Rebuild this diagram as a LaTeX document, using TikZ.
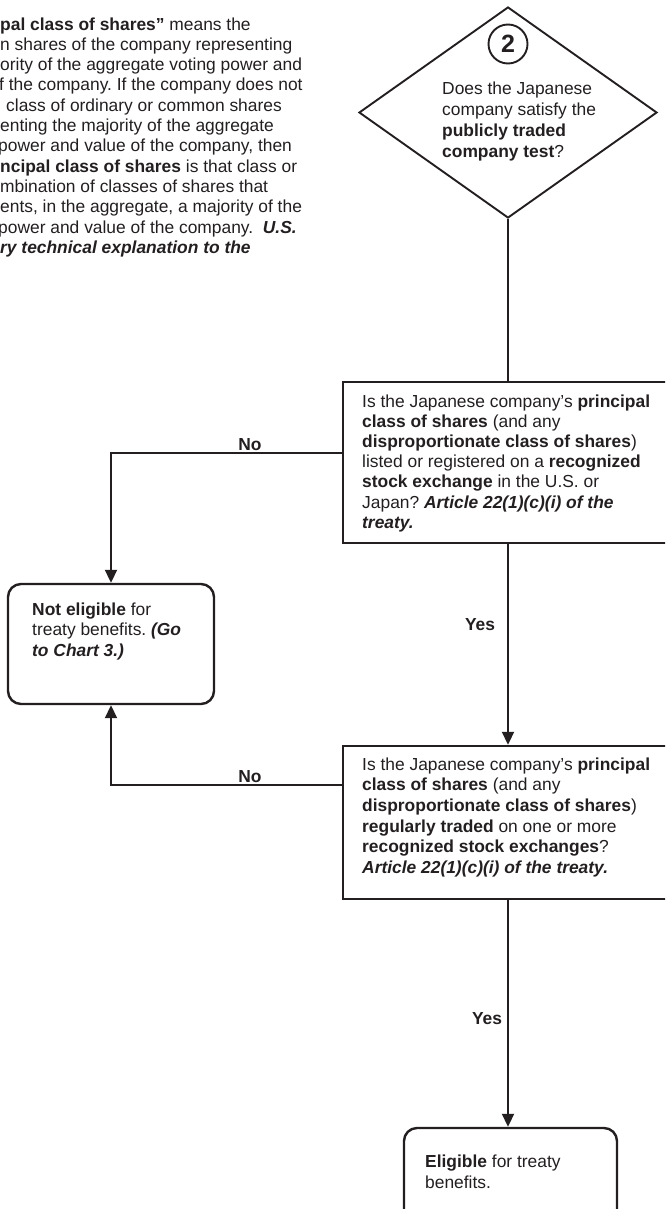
\documentclass[tikz,border=0pt]{standalone}
\usepackage{fontspec}
\setmainfont{Liberation Sans}
\usetikzlibrary{shapes.geometric,arrows.meta}
\definecolor{ink}{HTML}{231F20}
\newcommand\bi[1]{\textbf{\textit{#1}}}
\frenchspacing
\begin{document}
\begin{tikzpicture}[x=1pt,y=-1pt,
  % multi-line texts are placed by the baseline of their last line
  txt/.style={inner sep=0pt, anchor=base west, align=left, text=ink},
  qbox/.style={draw=ink, line width=2.4pt, rectangle, inner sep=0pt},
  endbox/.style={draw=ink, line width=2.4pt, rectangle, rounded corners=13pt, inner sep=0pt},
  link/.style={draw=ink, line width=1.9pt},
  flow/.style={link, -{Triangle[length=13pt,width=12pt]}},
  lab/.style={inner sep=0pt, anchor=base, text=ink, font=\fontsize{17.4pt}{20pt}\selectfont\bfseries},
]
\useasboundingbox (0,0) rectangle (665,1209);
\clip (0,0) rectangle (665,1209);

% definition paragraph, running off the left edge of the page
\node[txt, font=\fontsize{17.4pt}{20.3pt}\selectfont] (defn) at (0,253.3)
 {\textbf{pal class of shares”} means the\\
  n shares of the company representing\\
  ority of the aggregate voting power and\\
  \hspace*{-1pt}f the company. If the company does not\\
  \hspace*{6pt}class of ordinary or common shares\\
  enting the majority of the aggregate\\
  \hspace*{-2pt}power and value of the company, then\\
  \textbf{ncipal class of shares} is that class or\\
  mbination of classes of shares that\\
  ents, in the aggregate, a majority of the\\
  \hspace*{-2pt}power and value of the company.\ \ \bi{U.S.}\\
  \bi{ry technical explanation to the}};

% decision 2: the publicly traded company test
\node[draw=ink, line width=1.9pt, diamond, inner sep=0pt,
      minimum width=298pt, minimum height=211pt] (d) at (508,112.5) {};
\node[draw=ink, line width=1.9pt, circle, minimum size=39pt, inner sep=0pt,
      text=ink, font=\fontsize{25pt}{25pt}\selectfont\bfseries] (num) at (508,44) {2};
\node[txt, font=\fontsize{17.4pt}{20.7pt}\selectfont] (dtext) at (442,157.1)
 {Does the Japanese\\
  company satisfy the\\
  \textbf{publicly traded}\\
  \textbf{company test}?};

% listing question
\node[qbox, minimum width=337pt, minimum height=161pt] (q1) at (511.5,462.5) {};
\node[txt, font=\fontsize{17.4pt}{20.2pt}\selectfont] (q1text) at (362,528.2)
 {Is the Japanese company’s \textbf{principal}\\
  \textbf{class of shares} (and any\\
  \textbf{disproportionate class of shares})\\
  listed or registered on a \textbf{recognized}\\
  \textbf{stock exchange} in the U.S. or\\
  Japan? \bi{Article 22(1)(c)(i) of the}\\
  \bi{treaty.}};

% regular trading question
\node[qbox, minimum width=337pt, minimum height=153pt] (q2) at (511.5,822.5) {};
\node[txt, font=\fontsize{17.4pt}{20.7pt}\selectfont] (q2text) at (362,873.5)
 {Is the Japanese company’s \textbf{principal}\\
  \textbf{class of shares} (and any\\
  \textbf{disproportionate class of shares})\\
  \textbf{regularly traded} on one or more\\
  \textbf{recognized stock exchanges}?\\
  \bi{Article 22(1)(c)(i) of the treaty.}};

% outcomes
\node[endbox, minimum width=206pt, minimum height=120pt] (ne) at (111,644) {};
\node[txt, font=\fontsize{17.4pt}{20.5pt}\selectfont] (netext) at (32,656)
 {\textbf{Not eligible} for\\
  treaty benefits. \bi{(Go}\\
  \bi{to Chart 3.)}};

\node[endbox, minimum width=213pt, minimum height=112pt] (el) at (510.5,1184) {};
\node[txt, font=\fontsize{17.4pt}{21pt}\selectfont] (eltext) at (425,1188)
 {\textbf{Eligible} for treaty\\
  benefits.};

% connectors
\draw[link] (d.south) -- (d.south |- q1.north);
\draw[flow] ([yshift=9.5pt]q1.west) -| (ne.north);
\draw[flow] (d.south |- q1.south) -- (d.south |- q2.north);
\draw[flow] ([yshift=37.5pt]q2.west) -| (ne.south);
\draw[flow] (d.south |- q2.south) -- (d.south |- el.north);

% branch labels
\node[lab] (no1) at (250,450.5) {No};
\node[lab] (yes1) at (480,630) {Yes};
\node[lab] (no2) at (250,782.5) {No};
\node[lab] (yes2) at (487,1024) {Yes};
\end{tikzpicture}
\end{document}
